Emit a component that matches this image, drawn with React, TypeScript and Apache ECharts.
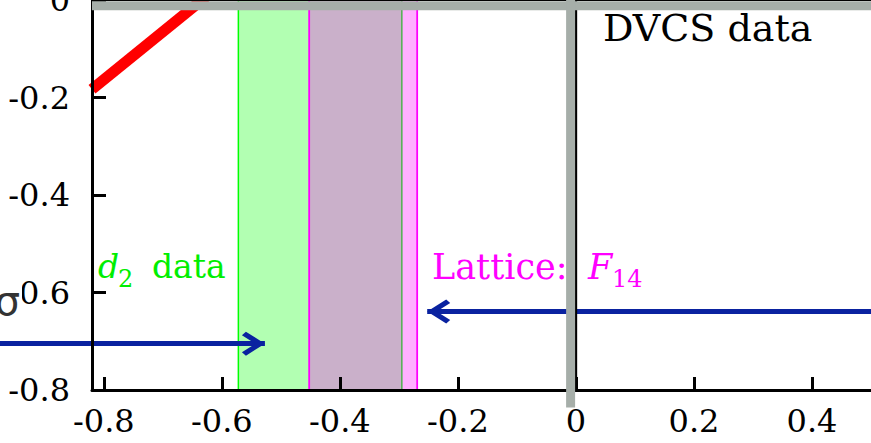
import React, { useEffect, useRef } from 'react';
import * as echarts from 'echarts';

// ---- data ----
const xRange = [-0.82, 0.5];
const yRange = [-0.8, 0];
const xTicks = [-0.8, -0.6, -0.4, -0.2, 0, 0.2, 0.4];
const yInterval = 0.2;

const redBand = [[-0.82, -0.183], [-0.6, 0.033]];
const d2Band = [-0.572, -0.295];
const latticeBand = [-0.452, -0.269];
const dvcsVertical = [[-0.009, -0.836], [-0.009, 0.2]];
const dvcsHorizontal = [[-0.82, -0.012], [0.5, -0.012]];
const zeroVertical = [[0, -0.774], [0, 0.1]];
const zeroHorizontal = [[-0.82, 0], [0.5, 0]];
const arrowD2 = [[-1.0, -0.705], [-0.527, -0.705]];
const arrowLattice = [[0.7, -0.639], [-0.252, -0.639]];

const BLUE = '#0a22a0';
const GREY = '#a6aea9';
const SERIF = '"DejaVu Serif"';
// chevron pointing up, tip at the centre of its (padded) bounding box
const ARROW_PATH =
  'path://M12,0L24,19L20.5,23L12,9.5L3.5,23L0,19Z' +
  'M-11,-23L-10.99,-23L-11,-22.99Z' +
  'M35,23L34.99,23L35,22.99Z';

function arrowSeries(pts: number[][]) {
  return {
    type: 'lines',
    coordinateSystem: 'cartesian2d',
    clip: false,
    silent: true,
    symbol: ['none', ARROW_PATH],
    symbolSize: [1, 46],
    lineStyle: { color: BLUE, width: 5, opacity: 1 },
    z: 4,
    data: [{ coords: pts }],
  };
}

function txt(text: string, x: number, y: number, font: string, fill: string, align = 'left', bg?: string) {
  return {
    type: 'text',
    x,
    y,
    z: 20,
    silent: true,
    style: {
      text,
      font,
      fill,
      align,
      textAlign: align,
      verticalAlign: 'middle',
      textVerticalAlign: 'middle',
      backgroundColor: bg,
      padding: bg ? [0, 2, 0, 2] : 0,
    },
  };
}

export default function App() {
  const ref = useRef<HTMLDivElement>(null);
  useEffect(() => {
    const chart = echarts.init(ref.current!, null, { renderer: 'svg' });
    const option: any = {
      animation: false,
      grid: { left: 92, right: 0, top: 0, bottom: 53, containLabel: false, outerBoundsMode: 'none' },
      xAxis: {
        type: 'value',
        min: xRange[0],
        max: xRange[1],
        z: 5,
        axisLine: { onZero: false, lineStyle: { color: '#000', width: 3 } },
        axisTick: {
          show: true,
          inside: true,
          length: 13,
          customValues: xTicks,
          lineStyle: { color: '#000', width: 3 },
        },
        axisLabel: {
          customValues: xTicks,
          margin: 15,
          color: '#000',
          fontFamily: 'DejaVu Serif',
          fontSize: 32,
        },
        splitLine: { show: false },
      },
      yAxis: {
        type: 'value',
        min: yRange[0],
        max: yRange[1],
        interval: yInterval,
        z: 5,
        axisLine: { onZero: false, lineStyle: { color: '#000', width: 3 } },
        axisTick: { show: true, inside: true, length: 14, lineStyle: { color: '#000', width: 3 } },
        axisLabel: {
          margin: 22,
          color: '#000',
          fontFamily: 'DejaVu Serif',
          fontSize: 32,
        },
        splitLine: { show: false },
      },
      series: [
        {
          type: 'line',
          data: [],
          silent: true,
          markArea: {
            silent: true,
            z: 1,
            itemStyle: { color: 'rgba(0,255,0,0.3)', borderColor: '#00ff00', borderWidth: 1.5 },
            data: [[{ xAxis: d2Band[0] }, { xAxis: d2Band[1] }]],
          },
        },
        {
          type: 'line',
          data: [],
          silent: true,
          markArea: {
            silent: true,
            z: 2,
            itemStyle: { color: 'rgba(255,0,255,0.31)', borderColor: '#ff00ff', borderWidth: 1.8 },
            data: [[{ xAxis: latticeBand[0] }, { xAxis: latticeBand[1] }]],
          },
        },
        {
          type: 'line',
          data: redBand,
          symbol: 'none',
          clip: true,
          lineStyle: { color: '#ff0000', width: 11, cap: 'butt' },
          z: 3,
          silent: true,
        },
        {
          type: 'line',
          data: zeroVertical,
          symbol: 'none',
          clip: true,
          lineStyle: { color: '#000', width: 2.5 },
          z: 4,
          silent: true,
        },
        {
          type: 'line',
          data: zeroHorizontal,
          symbol: 'none',
          clip: false,
          lineStyle: { color: '#000', width: 2 },
          z: 4,
          silent: true,
        },
        arrowSeries(arrowD2),
        arrowSeries(arrowLattice),
        {
          type: 'line',
          data: dvcsHorizontal,
          symbol: 'none',
          clip: true,
          lineStyle: { color: GREY, width: 9, cap: 'butt' },
          z: 6,
          silent: true,
        },
        {
          type: 'line',
          data: dvcsVertical,
          symbol: 'none',
          clip: false,
          lineStyle: { color: GREY, width: 9, cap: 'butt' },
          z: 6,
          silent: true,
        },
      ],
      graphic: [
        txt('DVCS data', 603, 28, `38px ${SERIF}`, '#000'),
        txt('d', 98, 266, `italic 33px ${SERIF}`, '#00ee00'),
        txt('2', 118, 279, `24px ${SERIF}`, '#00ee00'),
        txt('data', 152, 266, `33px ${SERIF}`, '#00ee00'),
        txt('Lattice:', 432, 267, `35px ${SERIF}`, '#ff00ff'),
        txt('F', 588, 267, `italic 35px ${SERIF}`, '#ff00ff'),
        txt('14', 612, 279, `24px ${SERIF}`, '#ff00ff'),
        txt('σ', 22, 301, '40px "DejaVu Sans"', '#333', 'right', '#fff'),
      ],
    };
    chart.setOption(option);
    return () => chart.dispose();
  }, []);
  return (
    <div
      ref={ref}
      style={{ position: 'fixed', left: 0, top: 0, width: 871, height: 443, background: '#fff' }}
    />
  );
}
